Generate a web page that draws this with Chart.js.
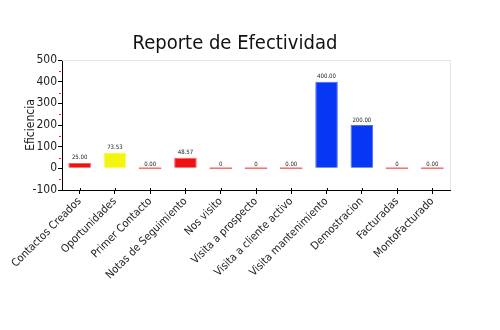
<!DOCTYPE html>
<html>
<head>
<meta charset="utf-8">
<script src="https://cdn.jsdelivr.net/npm/chart.js@4/dist/chart.umd.min.js"></script>
<style>
  html, body { margin: 0; padding: 0; background: #fff; }
  #wrap { width: 500px; height: 330px; }
</style>
</head>
<body>
<div id="wrap"><canvas id="chartEfectividad" width="500" height="330"></canvas></div>
<script>
// categorias y valores del reporte
const categorias = ['Contactos Creados', 'Oportunidades', 'Primer Contacto', 'Notas de Seguimiento',
  'Nos visito', 'Visita a prospecto', 'Visita a cliente activo', 'Visita mantenimiento',
  'Demostracion', 'Facturadas', 'MontoFacturado'];
const eficiencia = [25, 73.53, 0, 48.57, 0, 0, 0, 400, 200, 0, 0];
// decimales con los que se muestra cada etiqueta
const decimales = [2, 2, 2, 2, 0, 0, 2, 2, 2, 0, 2];
const ticksY = [-100, 0, 100, 200, 300, 400, 500];

const FUENTE = "'DejaVu Sans Condensed', 'DejaVu Sans', sans-serif";

// color segun el nivel de eficiencia
function colorBarra(v) {
  if (v >= 100) return '#0836f5';
  if (v >= 50) return '#f4f40c';
  if (v === 0) return 'rgba(240,40,40,0.65)';
  return '#f01010';
}
function colorBorde(v) {
  if (v >= 100) return '#4a6cf8';
  if (v >= 50) return '#f8f870';
  return '#f46060';
}

// marco gris arriba/derecha, ticks rojos intermedios y etiquetas de valor
const extras = {
  id: 'extras',
  afterDraw(chart) {
    const { ctx, chartArea: a } = chart;
    const y = chart.scales.y;
    const x = chart.scales.x;
    ctx.save();
    ctx.strokeStyle = '#e4e4e4';
    ctx.lineWidth = 1;
    ctx.beginPath();
    ctx.moveTo(a.left, a.top + 0.5);
    ctx.lineTo(a.right + 0.5, a.top + 0.5);
    ctx.lineTo(a.right + 0.5, a.bottom);
    ctx.stroke();

    // ticks rojos a mitad de cada intervalo
    ctx.strokeStyle = '#f02020';
    for (let i = 0; i < ticksY.length - 1; i++) {
      const py = Math.round(y.getPixelForValue((ticksY[i] + ticksY[i + 1]) / 2)) + 0.5;
      ctx.beginPath();
      ctx.moveTo(a.left - 3, py);
      ctx.lineTo(a.left - 1, py);
      ctx.stroke();
    }

    // las marcas del eje x cruzan un poco la linea
    ctx.strokeStyle = '#000';
    categorias.forEach((c, i) => {
      const px = Math.round(x.getPixelForTick(i)) + 0.5;
      ctx.beginPath();
      ctx.moveTo(px, a.bottom - 2);
      ctx.lineTo(px, a.bottom);
      ctx.stroke();
    });

    const meta = chart.getDatasetMeta(0);
    ctx.fillStyle = '#222';
    ctx.font = '6px ' + FUENTE;
    ctx.textAlign = 'center';
    ctx.textBaseline = 'bottom';
    meta.data.forEach((bar, i) => {
      const txt = eficiencia[i].toFixed(decimales[i]);
      ctx.fillText(txt, bar.x, bar.y - 2);
    });
    ctx.restore();
  }
};

new Chart(document.getElementById('chartEfectividad').getContext('2d'), {
  type: 'bar',
  data: {
    labels: categorias,
    datasets: [{
      data: eficiencia,
      backgroundColor: eficiencia.map(colorBarra),
      borderColor: eficiencia.map(colorBorde),
      borderWidth: 1,
      minBarLength: 2,
      barPercentage: 0.8,
      categoryPercentage: 0.8
    }]
  },
  options: {
    responsive: false,
    animation: false,
    layout: { padding: { left: 20, right: 50, top: 0, bottom: 0 } },
    plugins: {
      legend: { display: false },
      tooltip: { enabled: false },
      title: {
        display: true,
        text: 'Reporte de Efectividad',
        color: '#111',
        font: { family: FUENTE, size: 20, weight: 'normal' },
        padding: { top: 32, bottom: 4 }
      }
    },
    scales: {
      y: {
        min: -100,
        max: 500,
        afterBuildTicks(scale) { scale.ticks = ticksY.map(v => ({ value: v })); },
        afterFit(scale) { scale.width = 42; },
        border: { display: true, color: '#000', width: 1 },
        grid: { drawOnChartArea: false, drawTicks: true, tickLength: 4, color: '#000' },
        ticks: { color: '#222', padding: 1, font: { family: FUENTE, size: 12 } },
        title: { display: true, text: 'Eficiencia', color: '#222', font: { family: FUENTE, size: 12 }, padding: { top: 4, bottom: 2 } }
      },
      x: {
        afterFit(scale) { scale.height = 140; },
        border: { display: true, color: '#000', width: 1 },
        grid: { offset: false, drawOnChartArea: false, drawTicks: true, tickLength: 4, color: '#000' },
        ticks: { color: '#222', minRotation: 45, maxRotation: 45, padding: 1, autoSkip: false, font: { family: FUENTE, size: 11 } }
      }
    }
  },
  plugins: [extras]
});
</script>
</body>
</html>
